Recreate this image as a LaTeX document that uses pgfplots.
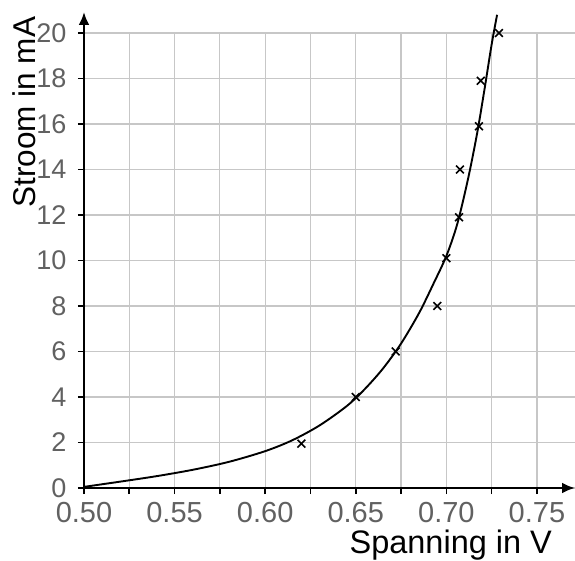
\documentclass[border=0pt]{standalone}
\usepackage{pgfplots}
\pgfplotsset{compat=1.18}
\usepackage{fontspec}
\setmainfont{Liberation Sans}
\usetikzlibrary{arrows.meta}

\begin{document}
\begin{tikzpicture}
\begin{axis}[
  at={(0pt,0pt)}, anchor=south west,
  scale only axis, width=491pt, height=455pt,
  xmin=0.5, xmax=0.771, ymin=0, ymax=20,
  clip=false,
  axis lines=left,
  axis line style={line width=2.6pt, -{Latex[length=13pt,width=11pt]}},
  y axis line style={shorten >=-21pt},
  xtick={0.5,0.55,0.6,0.65,0.7,0.75},
  minor xtick={0.525,0.575,0.625,0.675,0.725},
  ytick={0,2,4,6,8,10,12,14,16,18,20},
  grid=both,
  major grid style={black!22, line width=1.2pt},
  minor grid style={black!22, line width=1.2pt},
  tick align=outside,
  major tick length=6pt, minor tick length=6pt,
  tick style={black, line width=1.6pt},
  ticklabel style={font=\fontsize{27}{27}\selectfont, text=black!62},
  /pgf/number format/assume math mode=true,
  xticklabel style={/pgf/number format/fixed, /pgf/number format/fixed zerofill, /pgf/number format/precision=2, yshift=-5pt, font=\fontsize{29}{29}\selectfont},
  yticklabel style={xshift=-8pt},
  every axis x label/.style={at={(axis description cs:0.747,-0.125)}, anchor=center, font=\fontsize{32.5}{32.5}\selectfont},
  every axis y label/.style={at={(axis description cs:-0.122,0.826)}, anchor=center, rotate=90, font=\fontsize{31.5}{31.5}\selectfont},
  xlabel={Spanning in V},
  ylabel={Stroom in mA},
]
\addplot[black, line width=1.9pt, smooth] coordinates {
  (0.500,0.05) (0.520,0.28) (0.540,0.52) (0.560,0.80) (0.580,1.15)
  (0.600,1.62) (0.615,2.10) (0.630,2.75) (0.645,3.60) (0.655,4.35)
  (0.665,5.25) (0.675,6.35) (0.685,7.70) (0.693,9.00) (0.700,10.2)
  (0.706,11.6) (0.712,13.6) (0.717,15.6) (0.721,17.5) (0.725,19.5)
  (0.728,20.8)
};
\addplot[only marks, mark=x, mark size=5.5pt, mark options={black, line width=1.6pt}] coordinates {
  (0.620,1.95) (0.650,4.0) (0.672,6.0) (0.695,8.0) (0.700,10.1)
  (0.707,11.9) (0.7075,14.0) (0.718,15.9) (0.719,17.9) (0.729,20.0)
};
\end{axis}
\pgfresetboundingbox
\path[use as bounding box] (-84pt,-72pt) rectangle (491pt,488pt);
\end{tikzpicture}
\end{document}
